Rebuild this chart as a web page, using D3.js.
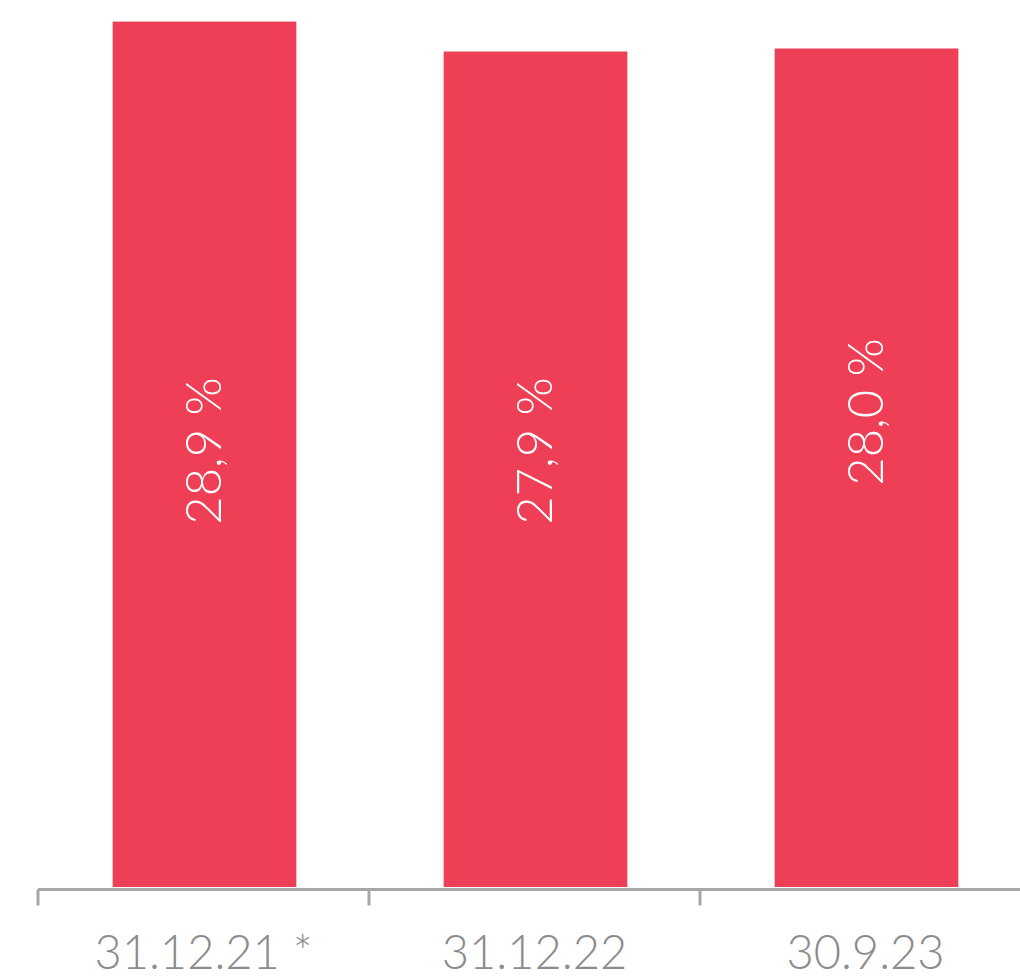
<!DOCTYPE html>
<html>
<head>
<meta charset="utf-8">
<script src="https://cdn.jsdelivr.net/npm/d3@7"></script>
<style>
  html, body { margin: 0; padding: 0; background: #fff; }
  svg { display: block; }
  text { font-family: "Lato", "Open Sans", sans-serif; font-weight: 300; }
</style>
</head>
<body>
<div id="chart"></div>
<script>
// ---- data ----
const categories = ["31.12.21 *", "31.12.22", "30.9.23"];
const values = [28.9, 27.9, 28.0];
const valueLabels = ["28,9 %", "27,9 %", "28,0 %"];

// ---- layout (not data) ----
const W = 1020, H = 980;
const axisY = 889.5;
const labelCenterY = [451, 451, 412];

const svg = d3.select("#chart").append("svg")
  .attr("width", W).attr("height", H);

const x = d3.scaleBand()
  .domain(categories)
  .range([38, 1031])
  .paddingInner(0).paddingOuter(0);

const y = d3.scaleLinear()
  .domain([0, 29.62])
  .range([887, 0]);

const barW = x.bandwidth() * 0.555;

// bars
svg.selectAll("rect.bar")
  .data(values)
  .join("rect")
  .attr("class", "bar")
  .attr("x", (d, i) => x(categories[i]) + (x.bandwidth() - barW) / 2 + 1)
  .attr("width", barW)
  .attr("y", d => y(d))
  .attr("height", d => y(0) - y(d))
  .attr("fill", "#EE3F56");

// value labels (rotated)
svg.selectAll("text.val")
  .data(valueLabels)
  .join("text")
  .attr("class", "val")
  .attr("transform", (d, i) => {
    const cx = x(categories[i]) + x.bandwidth() / 2;
    return `translate(${cx},${labelCenterY[i]}) rotate(-90)`;
  })
  .attr("text-anchor", "middle")
  .attr("dy", "0.36em")
  .attr("fill", "#ffffff")
  .style("font-size", "49px")
  .text(d => d);

// axis
const axis = d3.axisBottom(x)
  .tickSize(0)
  .tickSizeOuter(0)
  .tickPadding(0);

const gAxis = svg.append("g")
  .attr("transform", `translate(0,${axisY})`)
  .call(axis);

gAxis.select(".domain").remove();
gAxis.selectAll(".tick line").remove();

gAxis.append("line")
  .attr("x1", 38).attr("x2", W)
  .attr("y1", 0).attr("y2", 0)
  .attr("stroke", "#a7a7a7")
  .attr("stroke-width", 3);

// tick marks at band boundaries
gAxis.selectAll("line.bnd")
  .data(categories)
  .join("line")
  .attr("class", "bnd")
  .attr("x1", d => x(d)).attr("x2", d => x(d))
  .attr("y1", 0).attr("y2", 16)
  .attr("stroke", "#a7a7a7")
  .attr("stroke-width", 3);

gAxis.selectAll(".tick text")
  .attr("y", 79.5)
  .attr("dy", 0)
  .attr("fill", "#8c8c8c")
  .style("font-size", "47px")
  .style("font-family", "Lato, 'Open Sans', sans-serif")
  .style("font-weight", 300);
</script>
</body>
</html>
